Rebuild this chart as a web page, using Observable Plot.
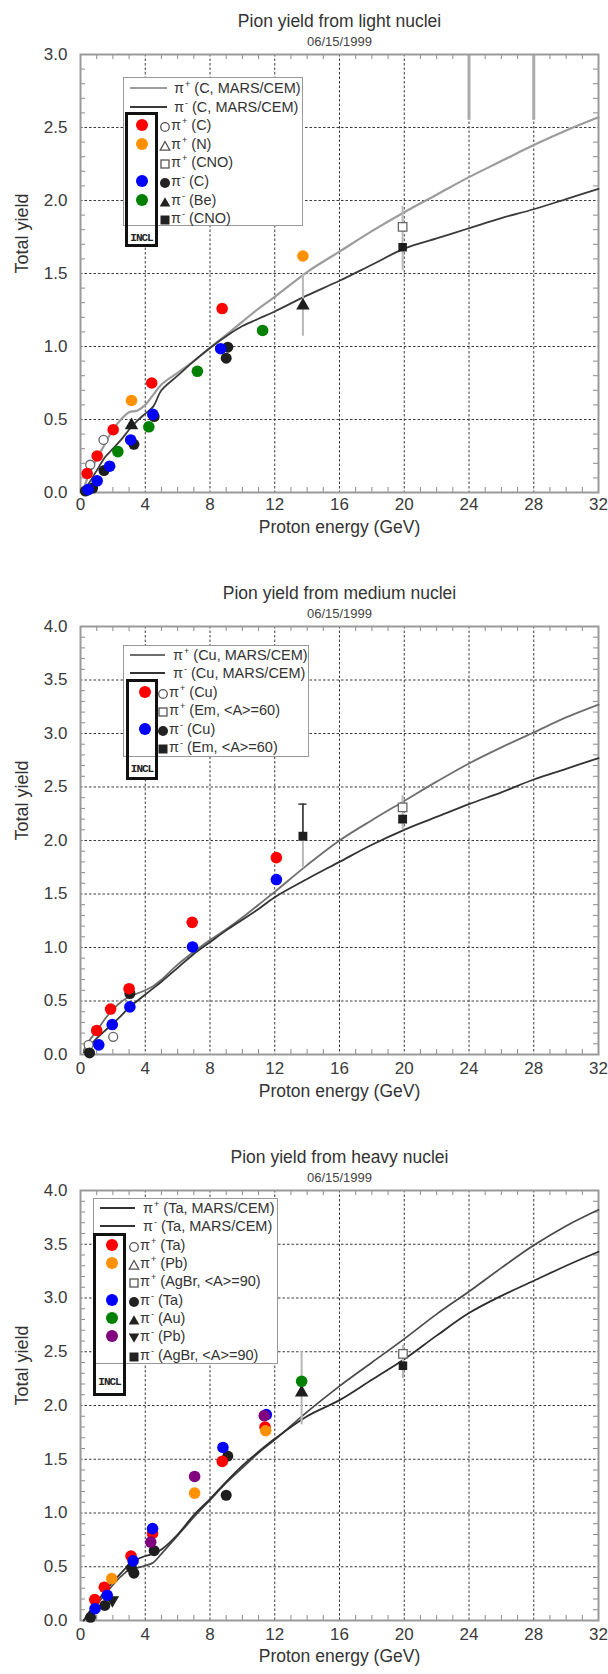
<!DOCTYPE html>
<html>
<head>
<meta charset="utf-8">
<script src="https://cdn.jsdelivr.net/npm/d3@7"></script>
<script src="https://cdn.jsdelivr.net/npm/@observablehq/plot@0.6"></script>
<style>
  html, body { margin: 0; padding: 0; background: #fff; }
  #root { position: relative; width: 608px; height: 1674px; overflow: hidden;
          font-family: 'Liberation Sans', Arial, Helvetica, sans-serif; color: #333; }
  .panel { position: absolute; left: 0; }
  .lgbox { position: absolute; background: #fff; border: 1.5px solid #999; box-sizing: border-box; }
  .inclbox { position: absolute; background: #fff; border: 3px solid #111; box-sizing: border-box; }
  .sep { position: absolute; height: 0; border-top: 1.5px solid #999; }
  .row { position: absolute; white-space: nowrap; font-size: 14.5px; line-height: 18px; color: #333; }
  .sup { font-size: 9px; position: relative; top: -6px; margin-left: 1px; }
  .sample { position: absolute; height: 0; }
  .idot { position: absolute; width: 12px; height: 12px; border-radius: 50%; }
  .sym { position: absolute; width: 12px; height: 12px; }
  .incl { position: absolute; font-family: 'Liberation Mono', 'DejaVu Sans Mono', monospace;
          font-size: 11px; font-weight: bold; letter-spacing: -1px; color: #222; line-height: 12px; }
</style>
</head>
<body>
<div id="root"></div>
<script>
// ---------------- DATA ----------------
const energyTicks = [0, 4, 8, 12, 16, 20, 24, 28, 32];
const yieldTicksLight = [0, 0.5, 1, 1.5, 2, 2.5, 3];
const yieldTicksMedium = [0, 0.5, 1, 1.5, 2, 2.5, 3, 3.5, 4];
const yieldTicksHeavy = [0, 0.5, 1, 1.5, 2, 2.5, 3, 3.5, 4];

const panelTitles = ["Pion yield from light nuclei", "Pion yield from medium nuclei", "Pion yield from heavy nuclei"];
const panelDate = "06/15/1999";
const xLabel = "Proton energy (GeV)";
const yLabel = "Total yield";

// MARS/CEM curves (energy grid shared)
const marsEnergy = [0.2, 0.5, 1, 1.5, 2, 2.5, 3, 3.5, 4, 4.5, 5, 6, 7, 8, 9, 10, 11, 12, 14, 16, 18, 20, 22, 24, 26, 28, 30, 32];
const lightMarsPiPlus  = [0.02, 0.12, 0.23, 0.33, 0.43, 0.50, 0.55, 0.56, 0.60, 0.67, 0.74, 0.82, 0.90, 0.99, 1.08, 1.17, 1.26, 1.34, 1.51, 1.65, 1.79, 1.92, 2.04, 2.16, 2.27, 2.38, 2.48, 2.57];
const lightMarsPiMinus = [0.01, 0.06, 0.15, 0.24, 0.30, 0.36, 0.43, 0.49, 0.54, 0.59, 0.70, 0.80, 0.90, 0.99, 1.07, 1.14, 1.19, 1.24, 1.35, 1.45, 1.56, 1.67, 1.74, 1.81, 1.88, 1.94, 2.01, 2.08];
const mediumMarsPiPlus  = [0.04, 0.12, 0.22, 0.33, 0.42, 0.49, 0.54, 0.57, 0.60, 0.64, 0.70, 0.84, 0.96, 1.07, 1.17, 1.28, 1.40, 1.52, 1.77, 2.00, 2.19, 2.37, 2.55, 2.72, 2.87, 3.01, 3.15, 3.27];
const mediumMarsPiMinus = [0.02, 0.07, 0.15, 0.22, 0.29, 0.36, 0.44, 0.50, 0.56, 0.62, 0.68, 0.81, 0.94, 1.05, 1.16, 1.26, 1.36, 1.47, 1.64, 1.80, 1.96, 2.10, 2.22, 2.34, 2.45, 2.57, 2.67, 2.77];
const heavyMarsPiPlus  = [0.00, 0.06, 0.15, 0.24, 0.33, 0.41, 0.47, 0.49, 0.51, 0.54, 0.62, 0.79, 0.96, 1.12, 1.28, 1.42, 1.56, 1.68, 1.94, 2.18, 2.40, 2.62, 2.85, 3.06, 3.28, 3.49, 3.67, 3.82];
const heavyMarsPiMinus = [0.00, 0.07, 0.17, 0.27, 0.36, 0.44, 0.52, 0.57, 0.60, 0.62, 0.66, 0.80, 0.98, 1.13, 1.29, 1.44, 1.57, 1.69, 1.90, 2.05, 2.24, 2.43, 2.65, 2.86, 3.02, 3.16, 3.30, 3.43];

// Light nuclei: INCL
const lightInclPiPlusC  = [[0.41, 0.13], [1.03, 0.25], [2.02, 0.43], [4.4, 0.75], [8.75, 1.26]];
const lightInclPiPlusN  = [[3.15, 0.63], [13.74, 1.62]];
const lightInclPiMinusC = [[0.47, 0.02], [1.03, 0.08], [1.8, 0.18], [3.1, 0.36], [4.47, 0.535], [8.66, 0.985]];
const lightInclPiMinusBe = [[2.31, 0.28], [4.22, 0.45], [7.22, 0.83], [11.25, 1.11]];
// Light nuclei: experiment
const lightExpPiPlusC    = [[0.6, 0.19], [1.42, 0.36]];
const lightExpPiPlusCNO  = [[19.9, 1.82]];
const lightExpPiMinusC   = [[0.3, 0.01], [0.75, 0.03], [1.45, 0.15], [3.3, 0.33], [4.55, 0.52], [9.0, 0.92], [9.1, 0.995]];
const lightExpPiMinusBe  = [[3.15, 0.46], [13.74, 1.28]];
const lightExpPiMinusCNO = [[19.9, 1.68]];
const lightErrorBars = [[13.74, 1.07, 1.5], [19.9, 1.52, 1.96]];
const lightErrorBarsDark = [];
const lightTopBars = [[24, 2.55, 3.0], [28, 2.55, 3.0]];

// Medium nuclei
const mediumInclPiPlusCu  = [[1.0, 0.225], [1.86, 0.425], [3.0, 0.615], [6.9, 1.235], [12.1, 1.84]];
const mediumInclPiMinusCu = [[1.13, 0.09], [1.96, 0.28], [3.05, 0.445], [6.92, 1.005], [12.1, 1.635]];
const mediumExpPiPlusCu   = [[0.5, 0.09], [2.02, 0.165]];
const mediumExpPiPlusEm   = [[19.9, 2.31]];
const mediumExpPiMinusCu  = [[0.56, 0.015], [3.05, 0.57]];
const mediumExpPiMinusEm  = [[13.74, 2.04], [19.9, 2.2]];
const mediumErrorBars = [[13.74, 1.74, 2.34], [19.9, 2.1, 2.42]];
const mediumErrorBarsDark = [[13.74, 2.04, 2.34]];

// Heavy nuclei
const heavyInclPiPlusTa  = [[0.88, 0.195], [1.47, 0.31], [3.12, 0.6], [4.45, 0.81], [8.76, 1.48], [11.4, 1.8]];
const heavyInclPiPlusPb  = [[1.93, 0.39], [7.05, 1.185], [11.44, 1.765]];
const heavyInclPiMinusTa = [[0.9, 0.11], [1.65, 0.235], [3.25, 0.555], [4.45, 0.855], [8.8, 1.61], [11.48, 1.915]];
const heavyInclPiMinusAu = [[13.66, 2.225]];
const heavyInclPiMinusPb = [[4.34, 0.73], [7.05, 1.34], [11.35, 1.905]];
const heavyExpPiPlusAgBr  = [[19.92, 2.48]];
const heavyExpPiMinusTa   = [[0.62, 0.03], [1.5, 0.14], [3.15, 0.49], [3.3, 0.44], [4.55, 0.65], [9.1, 1.53], [9.0, 1.165]];
const heavyExpPiMinusAu   = [[13.66, 2.12]];
const heavyExpPiMinusPb   = [[1.97, 0.19]];
const heavyExpPiMinusAgBr = [[19.92, 2.37]];
const heavyErrorBars = [[13.66, 1.82, 2.5], [19.92, 2.25, 2.56]];
const heavyErrorBarsDark = [];

// Legend labels
const lightLegendRows = [
  {kind: "line", sign: "+", label: "(C, MARS/CEM)"},
  {kind: "line", sign: "-", label: "(C, MARS/CEM)"},
  {kind: "sym", sym: "circleOpen", sign: "+", label: "(C)", incl: "#ff0000"},
  {kind: "sym", sym: "triangleOpen", sign: "+", label: "(N)", incl: "#ff9000"},
  {kind: "sym", sym: "squareOpen", sign: "+", label: "(CNO)"},
  {kind: "sym", sym: "circle", sign: "-", label: "(C)", incl: "#0000ff"},
  {kind: "sym", sym: "triangle", sign: "-", label: "(Be)", incl: "#008000"},
  {kind: "sym", sym: "square", sign: "-", label: "(CNO)"}
];
const mediumLegendRows = [
  {kind: "line", sign: "+", label: "(Cu, MARS/CEM)"},
  {kind: "line", sign: "-", label: "(Cu, MARS/CEM)"},
  {kind: "sym", sym: "circleOpen", sign: "+", label: "(Cu)", incl: "#ff0000"},
  {kind: "sym", sym: "squareOpen", sign: "+", label: "(Em, &lt;A&gt;=60)"},
  {kind: "sym", sym: "circle", sign: "-", label: "(Cu)", incl: "#0000ff"},
  {kind: "sym", sym: "square", sign: "-", label: "(Em, &lt;A&gt;=60)"}
];
const heavyLegendRows = [
  {kind: "line", sign: "+", label: "(Ta, MARS/CEM)"},
  {kind: "line", sign: "-", label: "(Ta, MARS/CEM)"},
  {kind: "sym", sym: "circleOpen", sign: "+", label: "(Ta)", incl: "#ff0000"},
  {kind: "sym", sym: "triangleOpen", sign: "+", label: "(Pb)", incl: "#ff9000"},
  {kind: "sym", sym: "squareOpen", sign: "+", label: "(AgBr, &lt;A&gt;=90)"},
  {kind: "sym", sym: "circle", sign: "-", label: "(Ta)", incl: "#0000ff"},
  {kind: "sym", sym: "triangle", sign: "-", label: "(Au)", incl: "#008000"},
  {kind: "sym", sym: "triangleDown", sign: "-", label: "(Pb)", incl: "#800080"},
  {kind: "sym", sym: "square", sign: "-", label: "(AgBr, &lt;A&gt;=90)"}
];

// ---------------- STYLES / LAYOUT ----------------
const RED = "#ff0000", ORANGE = "#ff9000", BLUE = "#0000ff", GREEN = "#008000", PURPLE = "#800080";
const openStyle = {fill: "#fff", stroke: "#666"};
const solidStyle = {fill: "#1e1e1e", stroke: "none"};

const panels = [
  {
    top: 0, height: 560, mt: 54, mb: 68, tickPad: 5, labelDy: 40,
    title: panelTitles[0], yTicks: yieldTicksLight,
    plus: lightMarsPiPlus, minus: lightMarsPiMinus,
    plusStroke: "#9c9c9c", plusWidth: 2.2, minusStroke: "#3a3a3a", minusWidth: 1.8,
    errors: lightErrorBars, errorsDark: lightErrorBarsDark, topBars: lightTopBars,
    exp: [
      {data: lightExpPiPlusC, symbol: "circle", r: 4.5, ...openStyle},
      {data: lightExpPiPlusCNO, symbol: "square", r: 4.8, ...openStyle},
      {data: lightExpPiMinusC, symbol: "circle", r: 5.5, ...solidStyle},
      {data: lightExpPiMinusBe, symbol: "triangle", r: 5, ...solidStyle},
      {data: lightExpPiMinusCNO, symbol: "square", r: 4.8, ...solidStyle}
    ],
    incl: [
      {data: lightInclPiPlusC, color: RED},
      {data: lightInclPiPlusN, color: ORANGE},
      {data: lightInclPiMinusC, color: BLUE},
      {data: lightInclPiMinusBe, color: GREEN}
    ],
    legend: {
      rows: lightLegendRows, box: [123, 77, 303, 226], row0: 88, step: 18.6,
      lineX: [130, 167], lineTextX: 174, symX: 165, symTextX: 171,
      plusStroke: "#9c9c9c", minusStroke: "#3a3a3a",
      incl: {box: [125, 112, 158, 247], dotX: 142, textY: 238}
    }
  },
  {
    top: 560, height: 560, mt: 66, mb: 66, tickPad: 7, labelDy: 42,
    title: panelTitles[1], yTicks: yieldTicksMedium,
    plus: mediumMarsPiPlus, minus: mediumMarsPiMinus,
    plusStroke: "#6e6e6e", plusWidth: 1.8, minusStroke: "#333", minusWidth: 1.8,
    errors: mediumErrorBars, errorsDark: mediumErrorBarsDark, topBars: null,
    exp: [
      {data: mediumExpPiPlusCu, symbol: "circle", r: 4.5, ...openStyle},
      {data: mediumExpPiPlusEm, symbol: "square", r: 4.8, ...openStyle},
      {data: mediumExpPiMinusCu, symbol: "circle", r: 5.5, ...solidStyle},
      {data: mediumExpPiMinusEm, symbol: "square", r: 5, ...solidStyle}
    ],
    incl: [
      {data: mediumInclPiPlusCu, color: RED},
      {data: mediumInclPiMinusCu, color: BLUE}
    ],
    legend: {
      rows: mediumLegendRows, box: [123, 645, 309, 757], row0: 655, step: 18.4,
      lineX: [130, 165], lineTextX: 173, symX: 163, symTextX: 169,
      plusStroke: "#6e6e6e", minusStroke: "#333",
      incl: {box: [126, 679, 158, 780], dotX: 145, textY: 769}
    }
  },
  {
    top: 1120, height: 554, mt: 70, mb: 54, tickPad: 7, labelDy: 41,
    title: panelTitles[2], yTicks: yieldTicksHeavy,
    plus: heavyMarsPiPlus, minus: heavyMarsPiMinus,
    plusStroke: "#4a4a4a", plusWidth: 1.7, minusStroke: "#2e2e2e", minusWidth: 1.8,
    errors: heavyErrorBars, errorsDark: heavyErrorBarsDark, topBars: null,
    exp: [
      {data: heavyExpPiPlusAgBr, symbol: "square", r: 4.8, ...openStyle},
      {data: heavyExpPiMinusTa, symbol: "circle", r: 5.5, ...solidStyle},
      {data: heavyExpPiMinusAu, symbol: "triangle", r: 5, ...solidStyle},
      {data: heavyExpPiMinusPb, symbol: "triangle", r: 5, rotate: 180, ...solidStyle},
      {data: heavyExpPiMinusAgBr, symbol: "square", r: 4.8, ...solidStyle}
    ],
    incl: [
      {data: heavyInclPiPlusTa, color: RED},
      {data: heavyInclPiPlusPb, color: ORANGE},
      {data: heavyInclPiMinusTa, color: BLUE},
      {data: heavyInclPiMinusAu, color: GREEN},
      {data: heavyInclPiMinusPb, color: PURPLE}
    ],
    legend: {
      rows: heavyLegendRows, box: [93, 1198, 278, 1364], row0: 1208, step: 18.35,
      lineX: [100, 135], lineTextX: 143, symX: 134, symTextX: 140,
      plusStroke: "#333", minusStroke: "#333",
      incl: {box: [93, 1233, 126, 1396], dotX: 112, textY: 1382}
    }
  }
];

// ---------------- DRAW ----------------
const root = document.getElementById("root");
const W = 608, ML = 80, MR = 10;

function drawPanel(cfg) {
  const plotH = cfg.height - cfg.mt - cfg.mb;
  const plotW = W - ML - MR;
  const yMax = cfg.yTicks[cfg.yTicks.length - 1];
  const minorX = d3.range(1, 32).filter(v => v % 4 !== 0);
  const minorY = d3.range(1, Math.round(yMax * 10)).filter(v => v % 5 !== 0).map(v => v / 10);
  const toPts = arr => arr.map(([x, y]) => ({x, y}));
  const curve = ys => marsEnergy.map((x, i) => ({x, y: ys[i]}));
  const gridStyle = {stroke: "#3a3a3a", strokeWidth: 1, strokeDasharray: "2.5,2"};
  const minorStyle = {stroke: "#8a8a8a", strokeWidth: 1};

  const marks = [
    Plot.ruleX(energyTicks.slice(1, -1), gridStyle),
    Plot.ruleY(cfg.yTicks.slice(1, -1), gridStyle),
    Plot.ruleX(minorX, {...minorStyle, insetTop: plotH - 5}),
    Plot.ruleX(minorX, {...minorStyle, insetBottom: plotH - 5}),
    Plot.ruleY(minorY, {...minorStyle, insetRight: plotW - 5}),
    Plot.ruleY(minorY, {...minorStyle, insetLeft: plotW - 5})
  ];
  if (cfg.topBars) {
    marks.push(Plot.ruleX(cfg.topBars, {x: d => d[0], y1: d => d[1], y2: d => d[2], stroke: "#aaa", strokeWidth: 3}));
  }
  marks.push(Plot.frame({stroke: "#9a9a9a", strokeWidth: 2}));
  marks.push(Plot.line(curve(cfg.plus), {x: "x", y: "y", stroke: cfg.plusStroke, strokeWidth: cfg.plusWidth, curve: "catmull-rom"}));
  marks.push(Plot.line(curve(cfg.minus), {x: "x", y: "y", stroke: cfg.minusStroke, strokeWidth: cfg.minusWidth, curve: "catmull-rom"}));
  marks.push(Plot.ruleX(cfg.errors, {x: d => d[0], y1: d => d[1], y2: d => d[2], stroke: "#b8b8b8", strokeWidth: 2}));
  if (cfg.errorsDark.length) {
    marks.push(Plot.ruleX(cfg.errorsDark, {x: d => d[0], y1: d => d[1], y2: d => d[2], stroke: "#333", strokeWidth: 1.5}));
    marks.push(Plot.ruleY(cfg.errorsDark, {y: d => d[2], x1: d => d[0] - 0.25, x2: d => d[0] + 0.25, stroke: "#333", strokeWidth: 1.5}));
  }
  for (const s of cfg.exp) {
    marks.push(Plot.dot(toPts(s.data), {x: "x", y: "y", symbol: s.symbol, r: s.r, fill: s.fill, stroke: s.stroke,
      strokeWidth: 1.3, rotate: s.rotate || 0}));
  }
  for (const s of cfg.incl) {
    marks.push(Plot.dot(toPts(s.data), {x: "x", y: "y", r: 5.8, fill: s.color, stroke: "none"}));
  }
  marks.push(Plot.text([cfg.title], {text: d => d, frameAnchor: "top", dy: -40, fontSize: 17.5, fill: "#333"}));
  marks.push(Plot.text([panelDate], {text: d => d, frameAnchor: "top", dy: -18, fontSize: 13, fill: "#444"}));
  marks.push(Plot.text([xLabel], {text: d => d, frameAnchor: "bottom", dy: cfg.labelDy, fontSize: 17.5, fill: "#333"}));
  marks.push(Plot.text([yLabel], {text: d => d, frameAnchor: "left", dx: -58, rotate: -90, fontSize: 18, fill: "#333"}));

  const svg = Plot.plot({
    width: W, height: cfg.height,
    marginLeft: ML, marginRight: MR, marginTop: cfg.mt, marginBottom: cfg.mb,
    x: {domain: [0, 32], ticks: energyTicks, tickSize: 0, tickPadding: cfg.tickPad, label: null},
    y: {domain: [0, yMax], ticks: cfg.yTicks, tickSize: 0, tickPadding: 13, tickFormat: d3.format(".1f"), label: null},
    style: {fontFamily: "'Liberation Sans', Arial, Helvetica, sans-serif", fontSize: "17px", color: "#3a3a3a",
            background: "white", overflow: "visible"},
    marks
  });
  const wrap = document.createElement("div");
  wrap.className = "panel";
  wrap.style.top = cfg.top + "px";
  wrap.appendChild(svg);
  root.appendChild(wrap);
}

function symSvg(kind) {
  const shapes = {
    circleOpen: '<circle cx="6" cy="6" r="4.3" fill="#fff" stroke="#555" stroke-width="1.3"/>',
    triangleOpen: '<polygon points="6,1.5 10.8,10.2 1.2,10.2" fill="#fff" stroke="#555" stroke-width="1.3"/>',
    squareOpen: '<rect x="2" y="2" width="8" height="8" fill="#fff" stroke="#555" stroke-width="1.3"/>',
    circle: '<circle cx="6" cy="6" r="5" fill="#222"/>',
    triangle: '<polygon points="6,1.2 11.3,10.6 0.7,10.6" fill="#222"/>',
    triangleDown: '<polygon points="0.7,1.4 11.3,1.4 6,10.8" fill="#222"/>',
    square: '<rect x="1.5" y="1.5" width="9" height="9" fill="#222"/>'
  };
  return `<svg width="12" height="12" viewBox="0 0 12 12">${shapes[kind]}</svg>`;
}

function el(cls, css, html) {
  const d = document.createElement("div");
  d.className = cls;
  Object.assign(d.style, css);
  if (html != null) d.innerHTML = html;
  root.appendChild(d);
  return d;
}

function drawLegend(L) {
  const [bl, bt, br, bb] = L.box;
  el("lgbox", {left: bl + "px", top: bt + "px", width: (br - bl) + "px", height: (bb - bt) + "px"});
  const [il, it, ir, ib] = L.incl.box;
  el("inclbox", {left: il + "px", top: it + "px", width: (ir - il) + "px", height: (ib - it) + "px"});
  el("sep", {left: (il + 3) + "px", top: (bb - 1.5) + "px", width: (ir - il - 6) + "px"});
  el("incl", {left: il + "px", top: (L.incl.textY - 6) + "px", width: (ir - il) + "px", textAlign: "center"}, "INCL");
  L.rows.forEach((r, i) => {
    const cy = L.row0 + i * L.step;
    const piTxt = `π<span class="sup">${r.sign}</span> ${r.label}`;
    if (r.kind === "line") {
      const stroke = r.sign === "+" ? L.plusStroke : L.minusStroke;
      el("sample", {left: L.lineX[0] + "px", top: (cy - 1) + "px", width: (L.lineX[1] - L.lineX[0]) + "px",
        borderTop: "2px solid " + stroke});
      el("row", {left: L.lineTextX + "px", top: (cy - 9) + "px"}, piTxt);
    } else {
      el("sym", {left: (L.symX - 6) + "px", top: (cy - 6) + "px"}, symSvg(r.sym));
      el("row", {left: L.symTextX + "px", top: (cy - 9) + "px"}, piTxt);
      if (r.incl) el("idot", {left: (L.incl.dotX - 6) + "px", top: (cy - 6) + "px", background: r.incl});
    }
  });
}

panels.forEach(drawPanel);
panels.forEach(p => drawLegend(p.legend));
</script>
</body>
</html>
